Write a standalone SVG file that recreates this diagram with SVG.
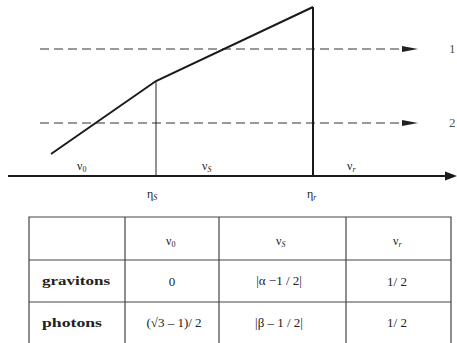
<svg xmlns="http://www.w3.org/2000/svg" width="457" height="343" viewBox="0 0 457 343">
<style>
.t{font-family:"Liberation Serif","Times New Roman",serif;fill:#222;font-size:12px}
.c{font-size:13px}
.sub{font-size:8px}
.b{font-weight:bold;font-size:13px}
.n{font-size:13px;fill:#555}
.dash{stroke:#333;stroke-width:1;stroke-dasharray:9 5;fill:none}
.thick{stroke:#1a1a1a;stroke-width:2;fill:none}
.grid{stroke:#444;stroke-width:1.2;fill:none}
</style>
<g id="connectors">
<line class="dash" x1="40" y1="49" x2="402" y2="49"/>
<path d="M402,46 L418,49 L402,52 Z" fill="#222"/>
<line class="dash" x1="40" y1="123" x2="402" y2="123"/>
<path d="M402,120 L418,123 L402,126 Z" fill="#222"/>
<line class="thick" x1="8" y1="176" x2="447" y2="176"/>
<path d="M445,171.5 L457,176 L445,180.5 Z" fill="#1a1a1a"/>
<polyline class="thick" points="51,154 156,81 313,7"/>
<line class="thick" x1="313" y1="7" x2="313" y2="176"/>
<line stroke="#222" stroke-width="1" x1="156" y1="81" x2="156" y2="176"/>
</g>
<g id="labels">
<text class="t n" x="449" y="53">1</text>
<text class="t n" x="449" y="127">2</text>
<text class="t" x="77" y="170">ν<tspan class="sub" dy="2">0</tspan></text>
<text class="t" x="202" y="170">ν<tspan class="sub" dy="2" font-style="italic">S</tspan></text>
<text class="t" x="347" y="170">ν<tspan class="sub" dy="2" font-style="italic">r</tspan></text>
<text class="t" x="147" y="198">η<tspan class="sub" dy="2" font-style="italic">S</tspan></text>
<text class="t" x="307" y="198">η<tspan class="sub" dy="2" font-style="italic">r</tspan></text>
</g>
<g id="table">
<polyline class="grid" points="29,343 29,217 451,217 451,343"/>
<line class="grid" x1="29" y1="260" x2="451" y2="260"/>
<line class="grid" x1="29" y1="302" x2="451" y2="302"/>
<line class="grid" x1="125" y1="217" x2="125" y2="343"/>
<line class="grid" x1="219" y1="217" x2="219" y2="343"/>
<line class="grid" x1="346" y1="217" x2="346" y2="343"/>
<text class="t" x="166" y="245">ν<tspan class="sub" dy="2">0</tspan></text>
<text class="t" x="276" y="245">ν<tspan class="sub" dy="2" font-style="italic">S</tspan></text>
<text class="t" x="393" y="245">ν<tspan class="sub" dy="2" font-style="italic">r</tspan></text>
<text class="t b" x="42" y="285" textLength="68" lengthAdjust="spacingAndGlyphs">gravitons</text>
<text class="t b" x="42" y="327" textLength="60" lengthAdjust="spacingAndGlyphs">photons</text>
<text class="t c" x="172" y="286" text-anchor="middle">0</text>
<text class="t c" x="279" y="285" text-anchor="middle">|α −1 / 2|</text>
<text class="t c" x="397" y="286" text-anchor="middle">1/ 2</text>
<text class="t c" x="174" y="327" text-anchor="middle">(√3 – 1)/ 2</text>
<text class="t c" x="279" y="327" text-anchor="middle">|β – 1 / 2|</text>
<text class="t c" x="397" y="327" text-anchor="middle">1/ 2</text>
</g>
</svg>
